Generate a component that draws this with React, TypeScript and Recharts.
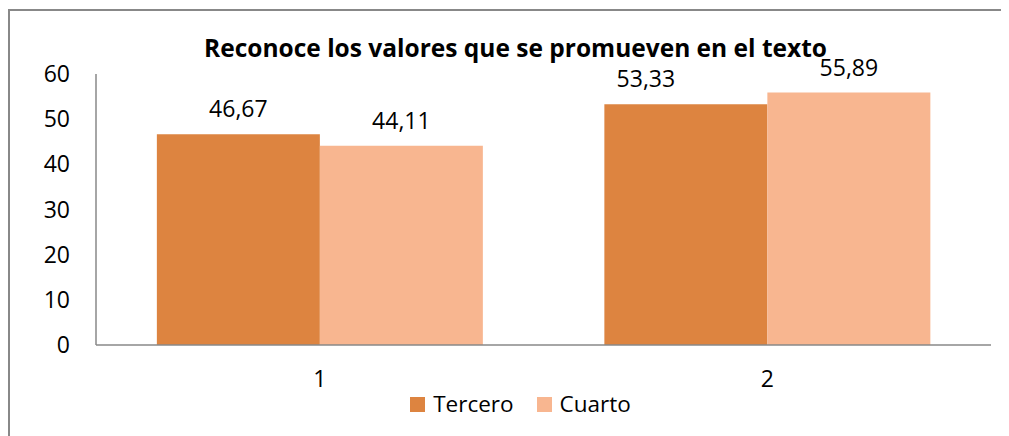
import { BarChart, Bar, XAxis, YAxis, LabelList } from 'recharts';

// categorías y valores
const categories = ['1', '2'];
const tercero = [46.67, 53.33];
const cuarto = [44.11, 55.89];
const yTicks = [0, 10, 20, 30, 40, 50, 60];
const seriesNames = ['Tercero', 'Cuarto'] as const;

const data = categories.map((c, i) => ({ cat: c, Tercero: tercero[i], Cuarto: cuarto[i] }));

const FONT = '"Open Sans", Carlito, Calibri, sans-serif';
const AXIS = '#888888';
const COLORS = { Tercero: '#DD8440', Cuarto: '#F8B690' };
const TXT = { fontSize: 23, fill: '#000', fontFamily: FONT };

const fmt = (v: number) => v.toFixed(2).replace('.', ',');

// en el original la etiqueta 53,33 está desplazada a la izquierda
const TerceroLabel = (props: any) => {
  const { x, y, width, value, index } = props;
  const dx = index === 1 ? -40 : 0;
  return (
    <text x={x + width / 2 + dx} y={y - 17} textAnchor="middle" style={TXT}>
      {fmt(value)}
    </text>
  );
};

export default function App() {
  return (
    <div
      style={{
        position: 'relative',
        width: 1001,
        height: 427,
        borderLeft: '2px solid #888',
        borderTop: '2px solid #888',
        marginTop: 1,
        boxSizing: 'border-box',
        background: '#fff',
      }}
    >
      <div
        style={{
          position: 'absolute',
          left: 5,
          width: 1001,
          top: 20,
          textAlign: 'center',
          fontFamily: FONT,
          fontWeight: 'bold',
          fontSize: 24.5,
          lineHeight: '34px',
          color: '#000',
          whiteSpace: 'nowrap',
        }}
      >
        Reconoce los valores que se promueven en el texto
      </div>
      <div style={{ position: 'absolute', left: -2, top: -3 }}>
        <BarChart
          width={1001}
          height={428}
          data={data}
          margin={{ top: 66, right: 18, bottom: 61, left: 0 }}
          barCategoryGap="13.6%"
          barGap={0}
        >
          <YAxis
            domain={[0, 60]}
            ticks={yTicks}
            width={88}
            tickLine={false}
            tickSize={0}
            tickMargin={26}
            axisLine={{ stroke: AXIS, strokeWidth: 1.5 }}
            tick={TXT}
          />
          <XAxis
            dataKey="cat"
            height={30}
            tickLine={false}
            tickSize={0}
            tickMargin={26}
            axisLine={{ stroke: AXIS, strokeWidth: 1.5 }}
            tick={TXT}
          />
          <Bar dataKey="Tercero" fill={COLORS.Tercero} isAnimationActive={false}>
            <LabelList dataKey="Tercero" content={<TerceroLabel />} />
          </Bar>
          <Bar dataKey="Cuarto" fill={COLORS.Cuarto} isAnimationActive={false}>
            <LabelList dataKey="Cuarto" position="top" offset={17} formatter={fmt} style={TXT} />
          </Bar>
        </BarChart>
      </div>
      <div
        style={{
          position: 'absolute',
          left: 10,
          width: 1001,
          top: 378,
          height: 30,
          display: 'flex',
          justifyContent: 'center',
          alignItems: 'center',
          fontFamily: FONT,
          fontSize: 22.5,
          lineHeight: '30px',
          color: '#000',
        }}
      >
        {seriesNames.map((k, i) => (
          <span key={k} style={{ display: 'flex', alignItems: 'center', marginLeft: i ? 23 : 0 }}>
            <span style={{ width: 15, height: 15, background: COLORS[k], display: 'inline-block', marginRight: 8 }} />
            {k}
          </span>
        ))}
      </div>
    </div>
  );
}
